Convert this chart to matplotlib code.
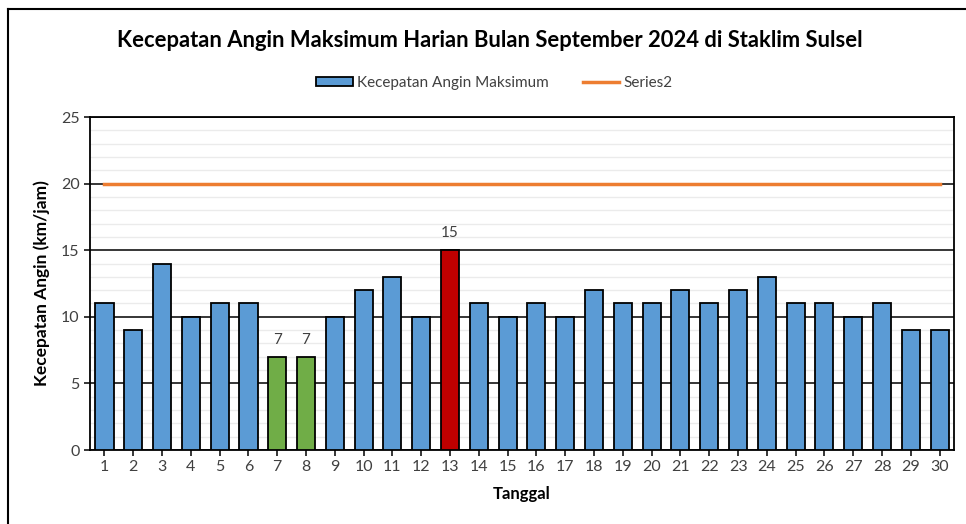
import matplotlib
matplotlib.use('Agg')
import matplotlib.pyplot as plt
from matplotlib.lines import Line2D

plt.rcParams['font.family'] = ['Lato', 'DejaVu Sans']

# data
tanggal = list(range(1, 31))
kecepatan = [11, 9, 14, 10, 11, 11, 7, 7, 10, 12, 13, 10, 15, 11, 10,
             11, 10, 12, 11, 11, 12, 11, 12, 13, 11, 11, 10, 11, 9, 9]
series2 = [20] * 30
label_hari = [7, 8, 13]

warna = []
for v in kecepatan:
    if v == max(kecepatan):
        warna.append('#C00000')
    elif v == min(kecepatan):
        warna.append('#70AD47')
    else:
        warna.append('#5B9BD5')

fig = plt.figure(figsize=(9.66, 5.24), dpi=100)
ax = fig.add_axes([0.0932, 0.1412, 0.8944, 0.6355])

bars = ax.bar(tanggal, kecepatan, width=0.63, color=warna, edgecolor='black',
              linewidth=1.3, zorder=3, label='Kecepatan Angin Maksimum')
line, = ax.plot(tanggal, series2, color='#ED7D31', linewidth=2.5, zorder=4, label='Series2')

for t in label_hari:
    v = kecepatan[t - 1]
    ax.annotate(str(v), (t, v), xytext=(0, 7), textcoords='offset points',
                ha='center', va='bottom', fontsize=11, color='#404040')

ax.set_xlim(0.5, 30.5)
ax.set_ylim(0, 25)
ax.set_xticks(tanggal)
ax.set_yticks([0, 5, 10, 15, 20, 25])
ax.set_yticks(range(0, 26), minor=True)
ax.grid(which='minor', axis='y', color='#ebebeb', linewidth=1, zorder=0)
ax.grid(which='major', axis='y', color='black', linewidth=1.1, zorder=1)
ax.tick_params(axis='y', which='minor', length=0)
ax.tick_params(axis='both', which='major', labelsize=11.5, labelcolor='#404040',
               direction='out', length=4, width=1.1)
for s in ax.spines.values():
    s.set_linewidth(1.3)

ax.set_ylabel('Kecepatan Angin (km/jam)', fontsize=12.5, fontweight='bold', labelpad=8)
ax.set_xlabel('Tanggal', fontsize=12, fontweight='bold', labelpad=8)

fig.text(0.507, 0.923, 'Kecepatan Angin Maksimum Harian Bulan September 2024 di Staklim Sulsel',
         ha='center', va='center', fontsize=15.8, fontweight='bold')

fig.legend([bars, line], ['Kecepatan Angin Maksimum', 'Series2'],
           loc='center', bbox_to_anchor=(0.512, 0.842), ncol=2, frameon=False,
           fontsize=11, handlelength=2.4, handleheight=0.6, columnspacing=2.2,
           handletextpad=0.3, labelcolor='#404040')

# garis tepi gambar
fig.add_artist(Line2D([8 / 966, 8 / 966], [0, 1 - 9 / 524], color='black', linewidth=1.5,
                      transform=fig.transFigure))
fig.add_artist(Line2D([8 / 966, 1], [1 - 9 / 524, 1 - 9 / 524], color='black', linewidth=1.5,
                      transform=fig.transFigure))

fig.savefig('out.png', dpi=100)
